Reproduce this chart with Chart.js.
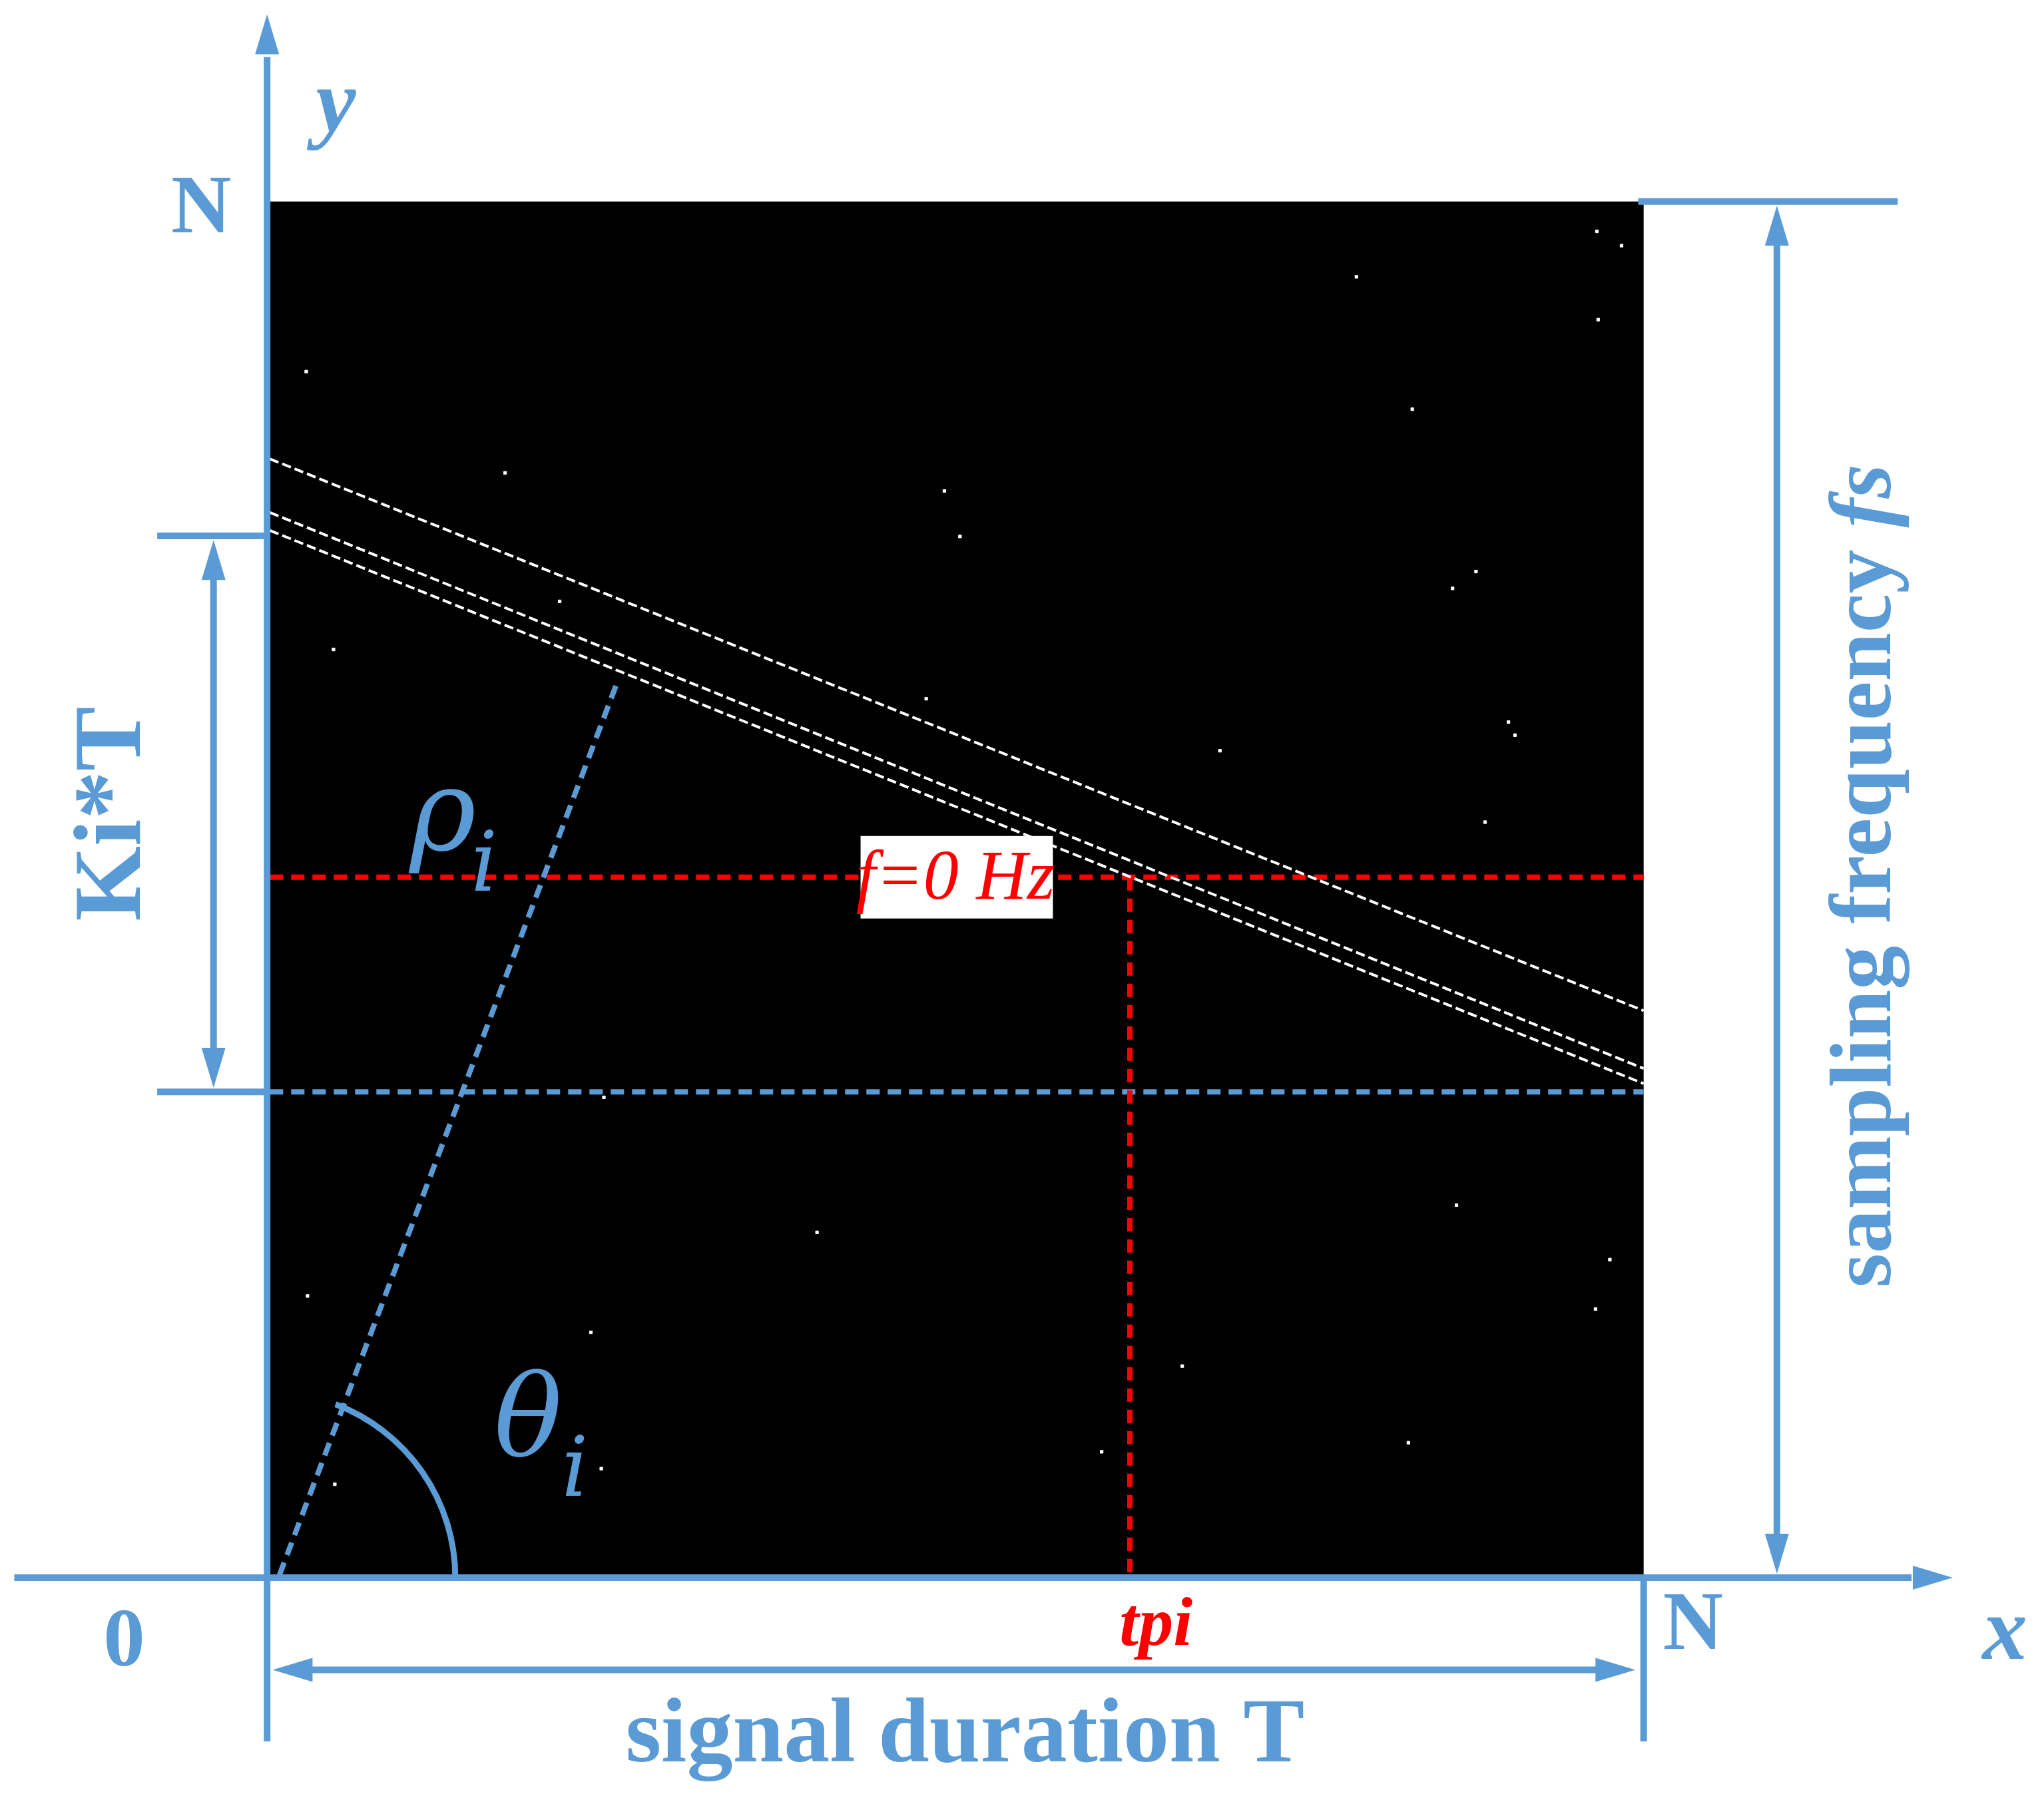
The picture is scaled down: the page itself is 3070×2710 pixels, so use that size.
<!DOCTYPE html>
<html><head><meta charset="utf-8">
<script src="https://cdn.jsdelivr.net/npm/chart.js@4"></script>
<style>html,body{margin:0;padding:0;background:#fff}canvas{display:block}</style>
</head><body>
<canvas id="c" width="3070" height="2710"></canvas>
<script>
const N = 100;
const whiteLine1 = [[0,81.3],[100,41.2]];
const whiteLine2 = [[0,77.4],[100,37.0]];
const whiteLine3 = [[0,76.1],[100,35.9]];
const f0Level = 50.9;
const tpi = 62.6;
const kiTLow = 35.3, kiTHigh = 75.7;
const rhoLine = [[0.7,0.2],[25.3,65.1]];
const noisePx = [[233,283],[386,361],[724,375],[736,410],[1041,210],[1084,312],[1226,175],[1245,186],[1227,243],[1133,437],[1115,450],[254,497],[710,535],[936,575],[1158,553],[1163,563],[1140,630],[626,946],[234,995],[452,1023],[907,1049],[1118,925],[1236,967],[1225,1005],[1081,1108],[845,1115],[460,1128],[255,1140],[428,460],[462,842]];
const noise = noisePx.map(p=>({x:(p[0]-205)/10.57, y:(1212-p[1])/10.6}));
const BLUE = '#5B9BD5', RED = '#FF0000';
const XMIN=-19.4, XMAX=128.9, YMIN=-16.2, YMAX=114.4;

const pts = a => a.map(p=>({x:p[0],y:p[1]}));
const lineDs = (data,color,w,dash)=>({type:'line',data,borderColor:color,borderWidth:w,borderDash:dash,pointRadius:0,showLine:true,fill:false,tension:0});

const plugin = {
  id:'diagram',
  beforeDatasetsDraw(ch){
    const c=ch.ctx, X=ch.scales.x, Y=ch.scales.y;
    c.save(); c.fillStyle='#000';
    c.fillRect(X.getPixelForValue(0),Y.getPixelForValue(N),X.getPixelForValue(N)-X.getPixelForValue(0),Y.getPixelForValue(0)-Y.getPixelForValue(N));
    c.restore();
  },
  afterDatasetsDraw(ch){
    const c=ch.ctx, X=ch.scales.x, Y=ch.scales.y;
    const px=x=>X.getPixelForValue(x), py=y=>Y.getPixelForValue(y);
    c.save();
    c.strokeStyle=BLUE; c.fillStyle=BLUE; c.lineWidth=10; c.lineCap='butt';
    const seg=(x1,y1,x2,y2)=>{c.beginPath();c.moveTo(px(x1),py(y1));c.lineTo(px(x2),py(y2));c.stroke();};
    const head=(x,y,dir,len=50,wid=20)=>{
      const X0=px(x),Y0=py(y);
      c.beginPath();c.moveTo(X0,Y0);
      c.lineTo(X0-len*Math.cos(dir)+wid*Math.sin(dir),Y0-len*Math.sin(dir)-wid*Math.cos(dir));
      c.lineTo(X0-len*Math.cos(dir)-wid*Math.sin(dir),Y0-len*Math.sin(dir)+wid*Math.cos(dir));
      c.closePath();c.fill();
    };
    seg(-0.2,-11.9,-0.2,110.5); head(-0.2,113.6,-Math.PI/2,60,18);
    seg(-18.6,0,119.5,0); head(122.5,0,0,60,18);
    seg(100,0,100,-11.9);
    seg(1.5,-6.7,98,-6.7); head(0.2,-6.7,Math.PI,60,18); head(99.4,-6.7,0,60,18);
    seg(99.6,100,118.5,100);
    seg(109.7,2,109.7,98); head(109.7,99.7,-Math.PI/2,60,18); head(109.7,0.3,Math.PI/2,60,18);
    seg(-8.2,kiTHigh,0,kiTHigh); seg(-8.2,kiTLow,0,kiTLow);
    seg(-4.1,kiTHigh-2,-4.1,kiTLow+2); head(-4.1,kiTHigh-0.3,-Math.PI/2,60,18); head(-4.1,kiTLow+0.3,Math.PI/2,60,18);
    const r=px(13.5)-px(0);
    const ang=Math.atan2(-(py(rhoLine[1][1])-py(rhoLine[0][1])),px(rhoLine[1][0])-px(rhoLine[0][0]));
    c.beginPath(); c.arc(px(0),py(0),r,-ang,0); c.lineWidth=9; c.stroke();
    c.fillStyle='#fff';
    c.fillRect(px(43),py(f0Level)-62,px(57)-px(43),124);
    c.fillStyle=RED; c.font='italic 106px "Liberation Serif"'; c.textAlign='center'; c.textBaseline='middle';
    c.fillText('f=0 Hz',px(49.9),py(f0Level)+4);
    c.font='bold italic 104px "Liberation Serif"';
    c.fillText('tpi',px(64.5),py(-3.6));
    c.fillStyle=BLUE;
    c.font='bold italic 135px "Liberation Serif"'; c.fillText('y',px(4.8),py(106.8));
    c.fillText('x',px(126.3),py(-4.2));
    c.font='bold 125px "Liberation Serif"';
    c.fillText('N',px(-5),py(99.3)); c.fillText('0',px(-10.6),py(-4.8)); c.fillText('N',px(103.6),py(-3.6));
    c.font='bold 138px "Liberation Serif"'; c.fillText('signal duration T',px(50.6),py(-11.6));
    c.font='italic 170px "DejaVu Serif"'; c.fillText('ρ',px(12.6),py(55));
    c.fillText('θ',px(18.8),py(11));
    c.font='italic 125px "DejaVu Serif"'; c.fillText('i',px(15.6),py(51.5)); c.fillText('i',px(22.2),py(7.5));
    c.save(); c.translate(px(-11.3),py(55.5)); c.rotate(-Math.PI/2);
    c.font='bold 145px "Liberation Serif"'; c.fillText('Ki*T',0,0); c.restore();
    c.save(); c.translate(px(116.3),py(51)); c.rotate(-Math.PI/2);
    c.font='bold 132px "Liberation Serif"'; c.textAlign='left';
    const t1='sampling frequency ', w1=c.measureText(t1).width;
    c.font='bold italic 132px "Liberation Serif"'; const w2=c.measureText('fs').width;
    const s=-(w1+w2)/2;
    c.font='bold 132px "Liberation Serif"'; c.fillText(t1,s,0);
    c.font='bold italic 132px "Liberation Serif"'; c.fillText('fs',s+w1,0);
    c.restore();
    c.restore();
  }
};

new Chart(document.getElementById('c'),{
  type:'scatter',
  data:{datasets:[
    lineDs(pts(whiteLine1),'#fff',4,[14,6]),
    lineDs(pts(whiteLine2),'#fff',4,[14,6]),
    lineDs(pts(whiteLine3),'#fff',4,[14,6]),
    {type:'scatter',data:noise,pointStyle:'rect',pointRadius:3,backgroundColor:'#fff',borderColor:'#fff'},
    lineDs(pts([[0,f0Level],[N,f0Level]]),RED,8,[20,12]),
    lineDs(pts([[tpi,f0Level],[tpi,0]]),RED,8,[20,12]),
    lineDs(pts([[0,kiTLow],[N,kiTLow]]),BLUE,8,[20,12]),
    lineDs(pts(rhoLine),BLUE,8,[20,12])
  ]},
  options:{responsive:false,animation:false,devicePixelRatio:1,
    layout:{padding:0},
    plugins:{legend:{display:false},tooltip:{enabled:false}},
    scales:{x:{type:'linear',min:XMIN,max:XMAX,display:false},y:{type:'linear',min:YMIN,max:YMAX,display:false}}
  },
  plugins:[plugin]
});
</script>
</body></html>
